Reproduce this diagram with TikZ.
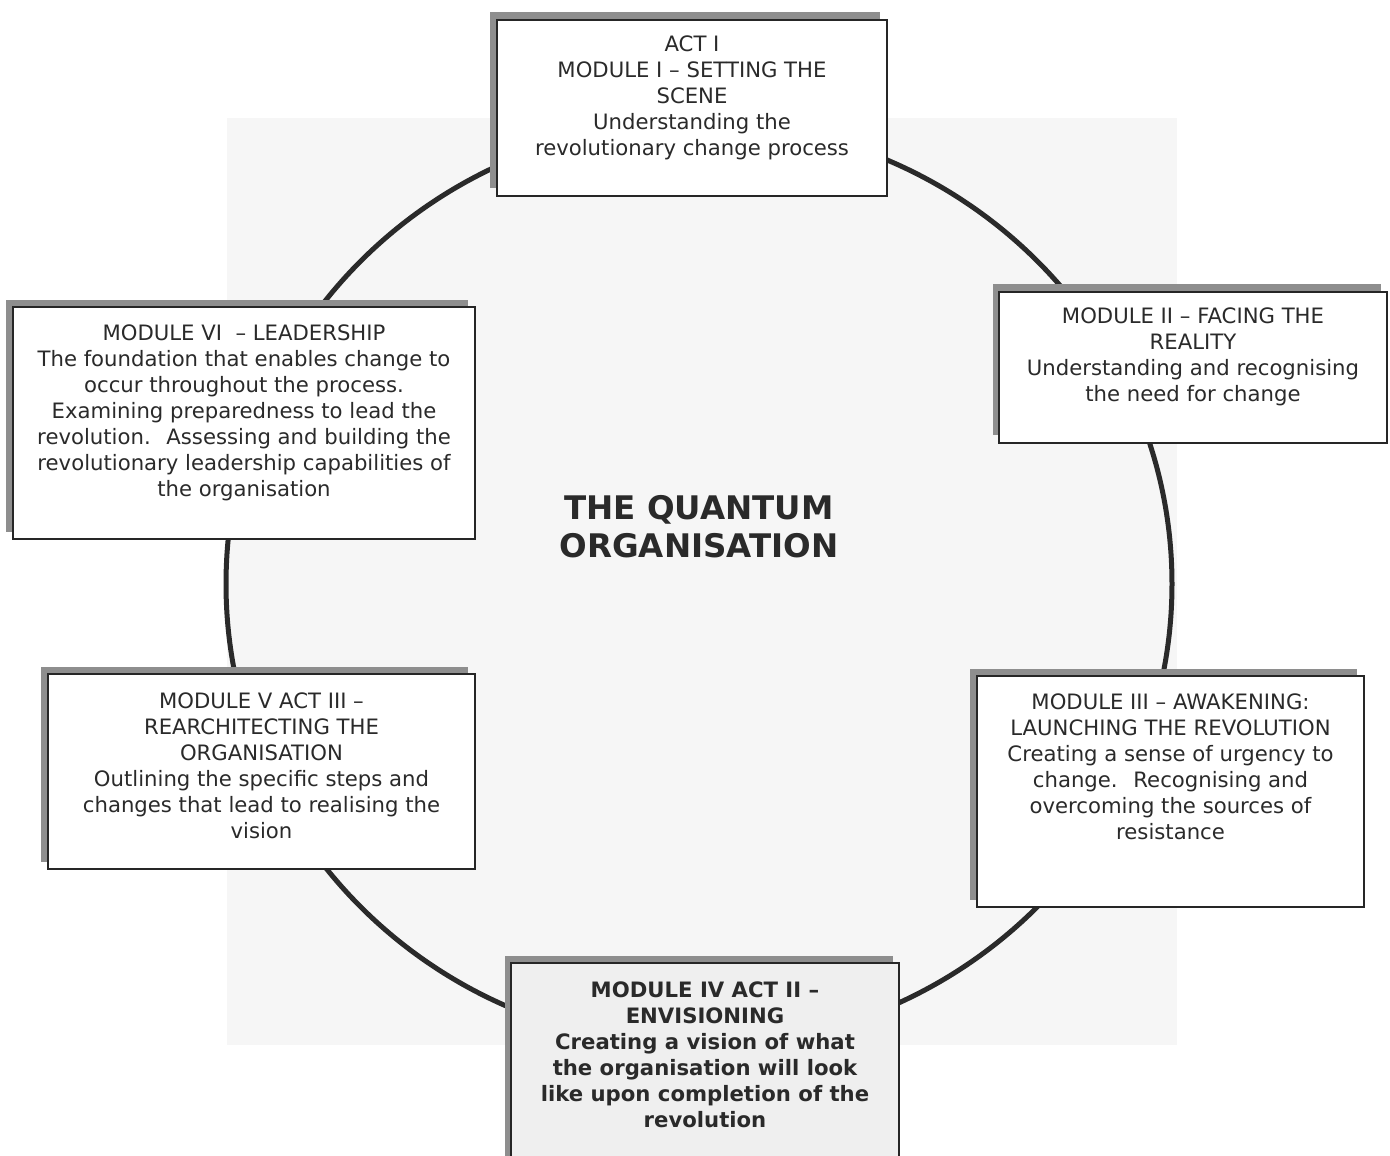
\documentclass[tikz,border=0pt]{standalone}
\usepackage{fontspec}
\setmainfont{DejaVu Sans}
\definecolor{ink}{HTML}{2A2A2A}
\definecolor{boxline}{HTML}{262626}
\definecolor{shadowgrey}{HTML}{8E8E8E}
\definecolor{paneltint}{HTML}{F6F6F6}
\definecolor{keyfill}{HTML}{EFEFEF}
\begin{document}
\begin{tikzpicture}[x=1pt,y=-1pt,
  panel/.style={draw=boxline, line width=2pt, fill=white, anchor=north west,
    inner sep=0pt, outer sep=0pt},
  dropshade/.style={fill=shadowgrey, anchor=north west, inner sep=0pt, outer sep=0pt},
  body/.style={align=center, anchor=north, inner sep=0pt, text=ink,
    font=\fontsize{21.2}{26}\selectfont},
  ring/.style={draw=ink, line width=5pt},
]
\useasboundingbox (0,0) rectangle (1390,1156);
\fill[white] (0,0) rectangle (1390,1156);

% soft backdrop behind the cycle
\fill[paneltint] (227,118) rectangle (1177,1045);

% the cycle joining the six modules
\draw[ring] (699,584) ellipse [x radius=473pt, y radius=462pt];

% drop shadows
\node[dropshade, minimum width=390pt, minimum height=176pt] (s1) at (490,12) {};
\node[dropshade, minimum width=388pt, minimum height=151pt] (s2) at (993,284) {};
\node[dropshade, minimum width=387pt, minimum height=231pt] (s3) at (970,669) {};
\node[dropshade, minimum width=388pt, minimum height=210pt] (s4) at (505,956) {};
\node[dropshade, minimum width=427pt, minimum height=195pt] (s5) at (41,667) {};
\node[dropshade, minimum width=462pt, minimum height=232pt] (s6) at (6,300) {};

% module panels
\node[panel, minimum width=390pt, minimum height=176pt] (m1) at (497,20) {};
\node[panel, minimum width=388pt, minimum height=151pt] (m2) at (999,292) {};
\node[panel, minimum width=387pt, minimum height=231pt] (m3) at (977,676) {};
\node[panel, fill=keyfill, minimum width=388pt, minimum height=210pt] (m4) at (511,963) {};
\node[panel, minimum width=427pt, minimum height=195pt] (m5) at (48,674) {};
\node[panel, minimum width=462pt, minimum height=232pt] (m6) at (13,307) {};

% panel texts
\node[body, yshift=-16pt] (t1) at (m1.north)
  {ACT I\\MODULE I – SETTING THE\\SCENE\\Understanding the\\revolutionary change process};
\node[body, yshift=-16pt] (t2) at (m2.north)
  {MODULE II – FACING THE\\REALITY\\Understanding and recognising\\the need for change};
\node[body, yshift=-18pt] (t3) at (m3.north)
  {MODULE III – AWAKENING:\\LAUNCHING THE REVOLUTION\\Creating a sense of urgency to\\change.~ Recognising and\\overcoming the sources of\\resistance};
\node[body, font=\bfseries\fontsize{21.2}{26}\selectfont, yshift=-19pt] (t4) at (m4.north)
  {MODULE IV ACT II –\\ENVISIONING\\Creating a vision of what\\the organisation will look\\like upon completion of the\\revolution};
\node[body, yshift=-19pt] (t5) at (m5.north)
  {MODULE V ACT III –\\REARCHITECTING THE\\ORGANISATION\\Outlining the specific steps and\\changes that lead to realising the\\vision};
\node[body, yshift=-18pt] (t6) at (m6.north)
  {MODULE VI~ – LEADERSHIP\\The foundation that enables change to\\occur throughout the process.\\Examining preparedness to lead the\\revolution.~ Assessing and building the\\revolutionary leadership capabilities of\\the organisation};

% centre title
\node[align=center, inner sep=0pt, text=ink,
  font=\bfseries\fontsize{32.5}{38}\selectfont] (title) at (699,527)
  {THE QUANTUM\\ORGANISATION};
\end{tikzpicture}
\end{document}
